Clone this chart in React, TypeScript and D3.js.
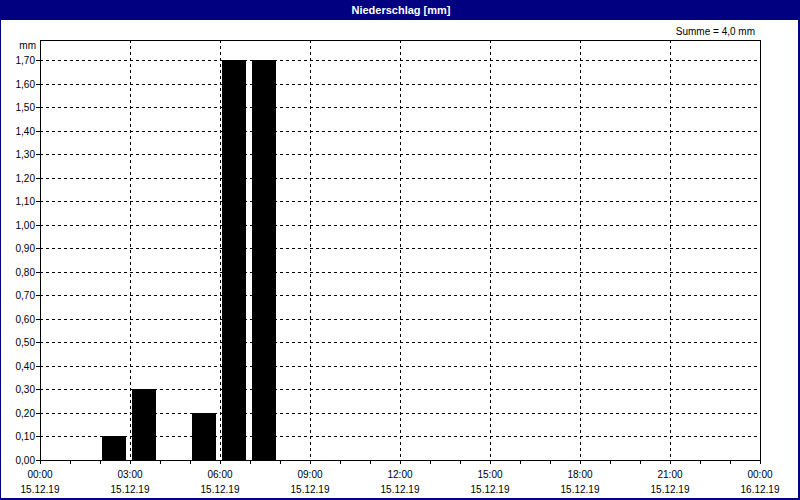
import React from "react";
import * as d3 from "d3";

// ---- data ----
const barStartHours: number[] = [2, 3, 5, 6, 7];
const barValues: number[] = [0.1, 0.3, 0.2, 1.7, 1.7];
const yTickValues: number[] = [0, 0.1, 0.2, 0.3, 0.4, 0.5, 0.6, 0.7, 0.8, 0.9, 1.0, 1.1, 1.2, 1.3, 1.4, 1.5, 1.6, 1.7];
const xTickHours: number[] = [0, 3, 6, 9, 12, 15, 18, 21, 24];
const xTimeLabels: string[] = ["00:00", "03:00", "06:00", "09:00", "12:00", "15:00", "18:00", "21:00", "00:00"];
const xDateLabels: string[] = ["15.12.19", "15.12.19", "15.12.19", "15.12.19", "15.12.19", "15.12.19", "15.12.19", "15.12.19", "16.12.19"];
const title = "Niederschlag [mm]";
const unitLabel = "mm";
const sumLabel = "Summe = 4,0 mm";

const W = 800;
const H = 500;
const plot = { left: 40, right: 760, top: 40, bottom: 460 };
const base = new Date(2019, 11, 15, 0, 0, 0);
const hourDate = (h: number) => d3.timeHour.offset(base, h);

export default function App() {
  React.useEffect(() => {
    document.body.style.margin = "0";
  }, []);

  const x = d3
    .scaleTime()
    .domain([hourDate(0), hourDate(24)])
    .range([plot.left, plot.right]);
  const y = d3.scaleLinear().domain([0, 1.785]).range([plot.bottom, plot.top]);
  const fmt = (v: number) => v.toFixed(2).replace(".", ",");
  const allHours = d3.range(0, 25);
  const font = "'Liberation Sans', Arial, sans-serif";

  return (
    <svg width={W} height={H} style={{ display: "block", position: "absolute", left: 0, top: 0 }} fontFamily={font}>
      <rect x={0} y={0} width={W} height={H} fill="#000080" />
      <rect x={1} y={20} width={W - 3} height={H - 22} fill="#ffffff" />
      <text x={401} y={10} fill="#ffffff" fontSize={11} fontWeight="bold" textAnchor="middle" dominantBaseline="central">
        {title}
      </text>
      <text x={755} y={31} fontSize={10} textAnchor="end" dominantBaseline="central" fill="#000">
        {sumLabel}
      </text>
      <text x={36} y={45} fontSize={10} textAnchor="end" dominantBaseline="central" fill="#000">
        {unitLabel}
      </text>

      {/* horizontal grid + y labels */}
      {yTickValues.map((v) => {
        const yy = Math.round(y(v)) + 0.5;
        return (
          <g key={"y" + v}>
            {v > 0 && (
              <line x1={plot.left} x2={plot.right} y1={yy} y2={yy} stroke="#000" strokeDasharray="3,3" shapeRendering="crispEdges" />
            )}
            <line x1={plot.left - 4} x2={plot.left} y1={yy} y2={yy} stroke="#000" shapeRendering="crispEdges" />
            <text x={35} y={yy} fontSize={10} textAnchor="end" dominantBaseline="central" fill="#000">
              {fmt(v)}
            </text>
          </g>
        );
      })}

      {/* vertical grid */}
      {xTickHours.slice(1, -1).map((h) => {
        const xx = Math.round(x(hourDate(h))) + 0.5;
        return (
          <line key={"vg" + h} x1={xx} x2={xx} y1={plot.top} y2={plot.bottom} stroke="#000" strokeDasharray="3,3" shapeRendering="crispEdges" />
        );
      })}

      {/* bars */}
      {barStartHours.map((h, i) => {
        const x0 = x(hourDate(h));
        const x1 = x(hourDate(h + 1));
        const top = y(barValues[i]);
        return (
          <rect
            key={"b" + i}
            x={Math.round(x0) + 2}
            y={Math.round(top)}
            width={Math.round(x1 - x0) - 6}
            height={plot.bottom - Math.round(top)}
            fill="#000"
            shapeRendering="crispEdges"
          />
        );
      })}

      {/* frame */}
      <rect
        x={plot.left + 0.5}
        y={plot.top + 0.5}
        width={plot.right - plot.left}
        height={plot.bottom - plot.top}
        fill="none"
        stroke="#000"
        shapeRendering="crispEdges"
      />

      {/* hour ticks */}
      {allHours.map((h) => {
        const xx = Math.round(x(hourDate(h))) + 0.5;
        return <line key={"t" + h} x1={xx} x2={xx} y1={plot.bottom} y2={plot.bottom + 4} stroke="#000" shapeRendering="crispEdges" />;
      })}

      {/* x labels */}
      {xTickHours.map((h, i) => {
        const xx = x(hourDate(h));
        return (
          <g key={"xl" + i}>
            <text x={xx} y={474} fontSize={10} textAnchor="middle" dominantBaseline="central" fill="#000">
              {xTimeLabels[i]}
            </text>
            <text x={xx} y={489} fontSize={10} textAnchor="middle" dominantBaseline="central" fill="#000">
              {xDateLabels[i]}
            </text>
          </g>
        );
      })}
    </svg>
  );
}
